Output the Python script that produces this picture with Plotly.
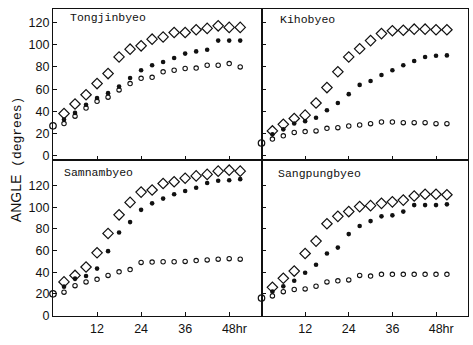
import plotly.graph_objects as go

W, H = 473, 345

hours = [3, 6, 9, 12, 15, 18, 21, 24, 27, 30, 33, 36, 39, 42, 45, 48, 51]

varieties = ["Tongjinbyeo", "Kihobyeo", "Samnambyeo", "Sangpungbyeo"]

origin_values = [27, 11.5, 20, 16]

diamond_values = [
    [38, 46.6, 55, 65, 74, 89, 96, 99, 105, 107, 111, 111, 113.5, 114.7, 117, 115.6, 115.6],
    [22.4, 28.3, 33.6, 36.6, 47.5, 61.4, 75.6, 89, 96.3, 103.7, 110, 112.6, 113, 114, 114, 113.5, 113.5],
    [31, 37, 44.8, 57.9, 75.8, 93, 104.5, 114, 116, 122, 123.6, 126.9, 129, 130.4, 133.4, 134.3, 133.4],
    [26, 34.3, 41, 57.3, 68.7, 84.8, 91.6, 96, 100.6, 101.5, 103.6, 105, 106.6, 110.4, 112, 112, 111.6],
]

filled_values = [
    [32.7, 38.6, 46, 52, 56.4, 62.3, 70, 77, 81.5, 84.5, 88, 92, 94, 95.4, 103.7, 103.7, 103.7],
    [19.4, 23.8, 29, 31.2, 34.2, 41, 47.5, 55.5, 63.8, 67.3, 72.7, 77, 81.5, 85.4, 89, 90, 90.4],
    [26.6, 34, 36.4, 43.3, 59.4, 76.7, 86.3, 97.6, 103.6, 108, 112, 115, 118, 122.4, 124.5, 125, 126],
    [22, 26.9, 32, 39.4, 46.9, 57.3, 62.7, 75.2, 82.7, 87.2, 91.6, 92.5, 96, 102, 102, 102, 102.7],
]

open_values = [
    [29, 35.7, 43, 49, 52.8, 59.3, 65, 69.7, 70.6, 75.6, 77, 78.6, 79, 81.5, 81.5, 83, 80],
    [15, 18, 21, 21.8, 22.4, 24.7, 25.3, 26.8, 27.7, 28.9, 30.4, 30.4, 29.8, 29.8, 29.8, 28.9, 28.9],
    [21.5, 27.5, 31, 33.4, 37, 40.3, 42.4, 49, 49.3, 49.6, 49.6, 49.9, 50.7, 51.3, 52, 52.5, 52],
    [18, 22, 24, 24.5, 27, 31, 32, 32.8, 37, 36.4, 38, 38, 38, 38, 38, 38, 38],
]

x_tickvals = [12, 24, 36, 48]
x_ticktext = ["12", "24", "36", "\u00a0\u00a0\u00a048hr"]
y_tickvals = [0, 20, 40, 60, 80, 100, 120]

# panel geometry in pixels (left, right, top, bottom)
col_px = [(53, 261.5), (261.5, 468)]
row_px = [(9, 162.5), (162.5, 322)]
row_ranges = [[-3.5, 132.3], [-0.9, 144]]
x_range = [0, 56.8]

fig = go.Figure()
ink = "#111111"
tick_font = dict(family="Liberation Sans, Arial, sans-serif", size=12.5, color=ink)

for i, name in enumerate(varieties):
    r, c = divmod(i, 2)
    n = i + 1
    xa = "x" if n == 1 else f"x{n}"
    ya = "y" if n == 1 else f"y{n}"
    fig.add_trace(go.Scatter(
        x=hours, y=diamond_values[i], mode="markers", xaxis=xa, yaxis=ya,
        marker=dict(symbol="diamond-open", size=8, color=ink, line=dict(width=1.2, color=ink)),
        showlegend=False, cliponaxis=False))
    fig.add_trace(go.Scatter(
        x=hours, y=filled_values[i], mode="markers", xaxis=xa, yaxis=ya,
        marker=dict(symbol="circle", size=4.6, color=ink),
        showlegend=False, cliponaxis=False))
    fig.add_trace(go.Scatter(
        x=hours, y=open_values[i], mode="markers", xaxis=xa, yaxis=ya,
        marker=dict(symbol="circle-open", size=4.4, color=ink, line=dict(width=1.1, color=ink)),
        showlegend=False, cliponaxis=False))
    fig.add_trace(go.Scatter(
        x=[0], y=[origin_values[i]], mode="markers", xaxis=xa, yaxis=ya,
        marker=dict(symbol="circle-open", size=6.5, color=ink, line=dict(width=1.2, color=ink)),
        showlegend=False, cliponaxis=False))

    l, rr = col_px[c]
    t, b = row_px[r]
    xkey = "xaxis" if n == 1 else f"xaxis{n}"
    ykey = "yaxis" if n == 1 else f"yaxis{n}"
    fig.layout[xkey] = dict(
        domain=[l / W, rr / W], range=x_range, anchor=ya,
        showgrid=False, zeroline=False, showline=True, mirror=True,
        linecolor=ink, linewidth=1.3,
        ticks="inside", ticklen=4, tickcolor=ink, tickwidth=1,
        tickvals=x_tickvals, ticktext=x_ticktext,
        showticklabels=(r == 1), tickfont=tick_font, fixedrange=True)
    fig.layout[ykey] = dict(
        domain=[1 - b / H, 1 - t / H], range=row_ranges[r], anchor=xa,
        showgrid=False, zeroline=False, showline=True, mirror=True,
        linecolor=ink, linewidth=1.3,
        ticks="inside", ticklen=4, tickcolor=ink, tickwidth=1,
        tickvals=y_tickvals,
        showticklabels=(c == 0), tickfont=tick_font, fixedrange=True)

label_pos = [(68, 18), (278, 20), (62, 176), (276, 177)]
annotations = []
for i, name in enumerate(varieties):
    px, py = label_pos[i]
    annotations.append(dict(
        text=name, x=px / W, y=1 - py / H, xref="paper", yref="paper",
        xanchor="left", yanchor="middle", showarrow=False,
        font=dict(family="Liberation Mono, Courier New, monospace", size=11.5, color=ink)))

annotations.append(dict(
    text="<span style='font-family:Liberation Sans Narrow, Liberation Sans, Arial, sans-serif;font-size:14px'>ANGLE</span>"
         " <span style='font-family:Liberation Mono, monospace;font-size:13px'>(degrees)</span>",
    x=16 / W, y=1 - 162 / H, xref="paper", yref="paper",
    xanchor="center", yanchor="middle", textangle=-90, showarrow=False,
    font=dict(family="Liberation Mono, monospace", size=13, color=ink)))

fig.update_layout(
    width=W, height=H,
    margin=dict(l=0, r=0, t=0, b=0),
    paper_bgcolor="white", plot_bgcolor="white",
    annotations=annotations, showlegend=False)

fig.write_html("out.html", config={"displayModeBar": False},
               post_script="document.body.style.margin='0';document.body.style.overflow='hidden';")
